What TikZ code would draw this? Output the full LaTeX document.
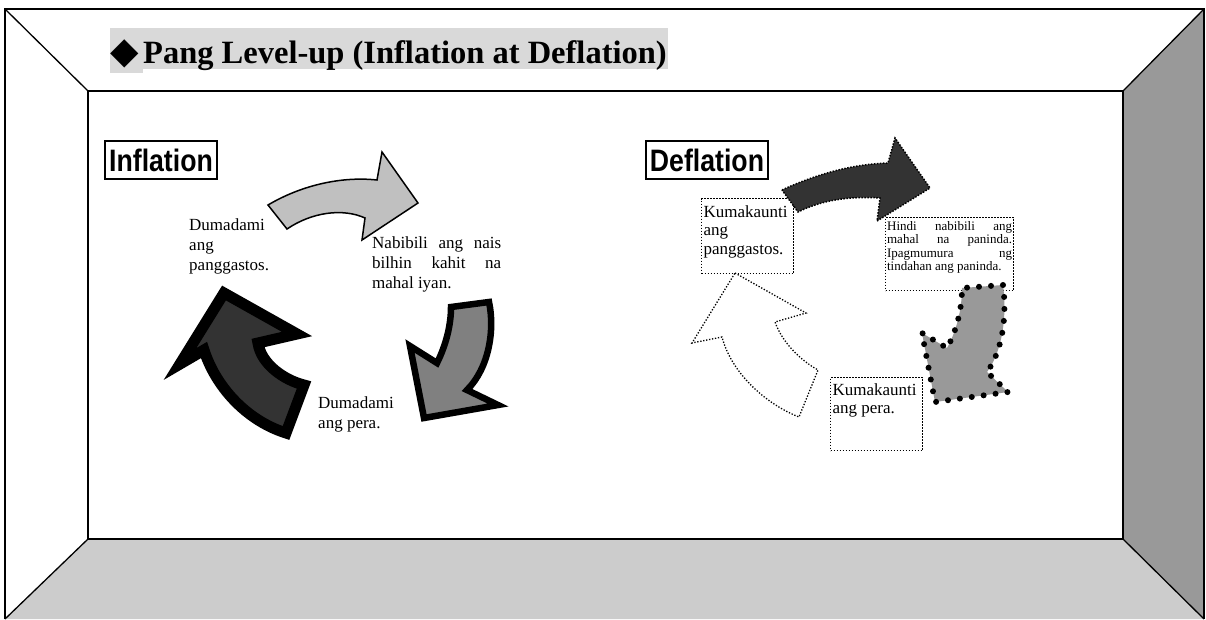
\documentclass[tikz,border=0pt]{standalone}
\usepackage{fontspec}
\setmainfont{Liberation Serif}
\newfontfamily\gothic{Liberation Sans}
\newfontfamily\symfnt{DejaVu Sans}
\definecolor{titlebg}{HTML}{D9D9D9}
\definecolor{floorc}{HTML}{CCCCCC}
\definecolor{wallc}{HTML}{999999}
\definecolor{lightg}{HTML}{C0C0C0}
\definecolor{midg}{HTML}{808080}
\definecolor{darkg}{HTML}{333333}
\begin{document}
\begin{tikzpicture}[x=1pt,y=-1pt,
  thinline/.style={draw=black,line width=1.3pt},
  innerline/.style={draw=black,line width=2.4pt},
  lbl/.style={draw=black,line width=1.5pt,inner sep=0pt,minimum height=38pt,font=\gothic\bfseries\fontsize{31}{32}\selectfont},
  body/.style={inner sep=0pt,anchor=base west,font=\fontsize{17}{20}\selectfont},
  dotbox/.style={draw=black,line width=1.2pt,dash pattern=on 1.2pt off 1.8pt,anchor=north west},
  arrA/.style={fill=lightg,draw=black,line width=1.5pt,line join=miter},
  arrB/.style={fill=midg,draw=black,line width=6.5pt,line join=miter},
  arrC/.style={fill=darkg,draw=black,line width=11pt,line join=miter},
  arrD/.style={fill=darkg,draw=black,line width=1.5pt,dash pattern=on 1.5pt off 1.5pt},
  arrE/.style={fill=white,draw=black,line width=1.3pt,dash pattern=on 1.3pt off 1.7pt},
  bigdots/.style={draw=black,line width=6pt,line cap=round,dash pattern=on 0pt off 12pt},
]
\useasboundingbox (0,0) rectangle (1206,619);
% room
\fill[white] (0,0) rectangle (1206,619);
\fill[wallc] (1123,91) -- (1204,9) -- (1204,619) -- (1123,539) -- cycle;
\fill[floorc] (88,539) -- (1123,539) -- (1204,619) -- (5,619) -- cycle;
\draw[thinline] (5,619) -- (5,9) -- (1204,9) -- (1204,619);
\draw[thinline] (5,9) -- (88,91);
\draw[thinline] (1204,9) -- (1123,91);
\draw[thinline] (88,539) -- (5,619);
\draw[thinline] (1123,539) -- (1204,619);
\draw[innerline] (88,91) rectangle (1123,539);
% title
\fill[titlebg] (110,28) rectangle (668,69);
\fill[titlebg] (110,69) rectangle (143,73);
\node[anchor=base west,inner sep=0pt,font=\bfseries\fontsize{32.5}{34}\selectfont] (title) at (110,63)
  {\makebox[33pt][l]{\symfnt\fontsize{37}{38}\selectfont ◆}Pang Level-up (Inflation at Deflation)};
% labels
\node[lbl,minimum width=112pt] (infl) at (161,160) {\scalebox{0.86}[1]{Inflation}};
\node[lbl,minimum width=122pt] (defl) at (707,160) {\scalebox{0.86}[1]{Deflation}};
% inflation cycle
\draw[arrA] (268,205) .. controls (300,186) and (340,176) .. (377,180) -- (382,152) -- (418,203) -- (362,240) -- (365,218) .. controls (343,208) and (312,212) .. (287,229) -- cycle;
\draw[arrB] (489,302) .. controls (495,330) and (489,368) .. (467,390) -- (498,405) -- (424,418) -- (410,346) -- (437,363) .. controls (446,345) and (451,325) .. (451,307) -- cycle;
\draw[arrC] (224,293) -- (297,334) -- (258,343) .. controls (261,364) and (284,380) .. (304,385) -- (286,433) .. controls (245,420) and (215,385) .. (204,350) -- (180,364) -- cycle;
\node[body] (t1) at (189,230) {\parbox[t]{90pt}{Dumadami\\ang\\panggastos.}};
\node[body] (t2) at (372,248) {\parbox[t]{129pt}{\makebox[129pt][s]{Nabibili ang nais}\\\makebox[129pt][s]{bilhin kahit na}\\mahal iyan.}};
\node[body] (t3) at (318,408) {\parbox[t]{90pt}{Dumadami\\ang pera.}};
% deflation cycle
\node[dotbox,inner sep=2pt,font=\fontsize{17}{18.3}\selectfont] (k1) at (701,198)
  {\parbox[t][71pt][t]{88pt}{\rule{0pt}{17pt}Kumakaunti\\ang\\panggastos.}};
\node[dotbox,inner sep=1.5pt,font=\fontsize{13}{13.5}\selectfont] (hb) at (885,217)
  {\parbox[t][70pt][t]{125pt}{\rule{0pt}{11pt}\makebox[125pt][s]{Hindi nabibili ang}\\\makebox[125pt][s]{mahal na paninda.}\\\makebox[125pt][s]{Ipagmumura ng}\\tindahan ang paninda.}};
\node[dotbox,inner sep=2pt,font=\fontsize{17}{18.3}\selectfont] (k3) at (830,377)
  {\parbox[t][69pt][t]{88pt}{\rule{0pt}{16pt}Kumakaunti\\ang pera.}};
\draw[arrD] (782,190) .. controls (812,176) and (850,164) .. (888,163) -- (895,138) -- (930,188) -- (877,221) -- (880,198) .. controls (850,196) and (822,200) .. (798,212) -- cycle;
\fill[wallc] (1003,285) .. controls (1007,315) and (1003,350) .. (987,372) -- (1008,392) -- (935,402) -- (922,333) -- (947,348) .. controls (956,332) and (962,310) .. (962,288) -- cycle;
\draw[bigdots] (1003,285) .. controls (1007,315) and (1003,350) .. (987,372) -- (1008,392) -- (935,402) -- (922,333) -- (947,348) .. controls (956,332) and (962,310) .. (962,288) -- cycle;
\draw[arrE] (735,273) -- (806,313) -- (775,322) .. controls (782,342) and (800,360) .. (818,370) -- (799,417) .. controls (768,405) and (732,375) .. (722,337) -- (692,343) -- cycle;
\end{tikzpicture}
\end{document}
